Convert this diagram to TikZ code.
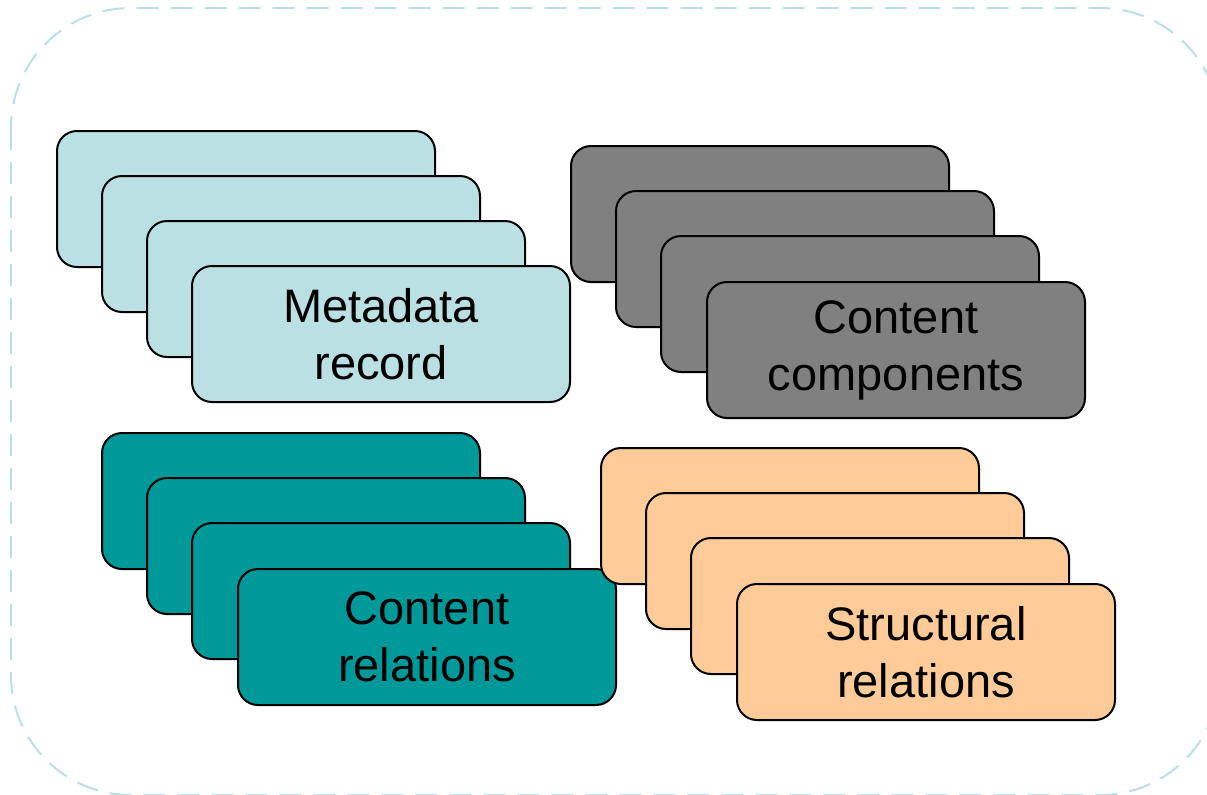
\documentclass[tikz,border=0pt]{standalone}
\usepackage{fontspec}
\setmainfont{Liberation Sans}
\usetikzlibrary{positioning}
\definecolor{meta-blue}{HTML}{BBE0E3}
\definecolor{comp-gray}{HTML}{808080}
\definecolor{rel-teal}{HTML}{009999}
\definecolor{struct-peach}{HTML}{FFCC99}

\begin{document}
\begin{tikzpicture}[
    x=0.5pt, y=-0.5pt,
    card/.style={rectangle, draw=black, line width=1pt, rounded corners=10pt, minimum width=189pt, minimum height=68pt, inner sep=0pt, align=center, anchor=north west, font=\fontsize{23.5}{28.5}\selectfont},
    frame/.style={draw=meta-blue, dashed, dash pattern=on 11pt off 6pt, line width=1pt, rounded corners=60pt}
]
\useasboundingbox (0,0) rectangle (1207,794);

% dashed frame
\draw[frame] (11,8) rectangle (1220,795);

% Metadata record
\foreach \i [evaluate=\i as \d using 45*(\i-1)] in {1,2,3}
  \node[card, fill=meta-blue] (meta\i) at (56+\d,130+\d) {};
\node[card, fill=meta-blue] (meta4) at (191,265) {Metadata\\record};

% Content components
\foreach \i [evaluate=\i as \d using 45*(\i-1)] in {1,2,3}
  \node[card, fill=comp-gray] (comp\i) at (570+\d,145+\d) {};
\node[card, fill=comp-gray] (comp4) at (706,281) {Content\\components};

% Content relations
\foreach \i [evaluate=\i as \d using 45*(\i-1)] in {1,2,3}
  \node[card, fill=rel-teal] (rel\i) at (101+\d,432+\d) {};
\node[card, fill=rel-teal] (rel4) at (237,568) {Content\\relations};

% Structural relations
\foreach \i [evaluate=\i as \d using 45*(\i-1)] in {1,2,3}
  \node[card, fill=struct-peach] (struct\i) at (600+\d,447+\d) {};
\node[card, fill=struct-peach] (struct4) at (736,583) {Structural\\relations};

\end{tikzpicture}
\end{document}
